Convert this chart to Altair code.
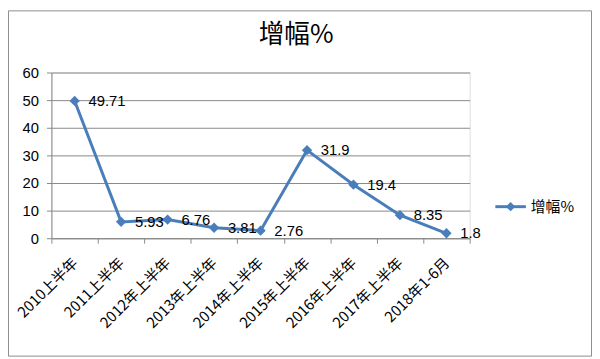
import altair as alt
import pandas as pd

categories = ["2010上半年", "2011上半年", "2012年上半年", "2013年上半年", "2014年上半年",
              "2015年上半年", "2016年上半年", "2017年上半年", "2018年1-6月"]
values = [49.71, 5.93, 6.76, 3.81, 2.76, 31.9, 19.4, 8.35, 1.8]
labels = ["49.71", "5.93", "6.76", "3.81", "2.76", "31.9", "19.4", "8.35", "1.8"]
series_name = "增幅%"
title_text = "增幅%"
y_ticks = [0, 10, 20, 30, 40, 50, 60]

df = pd.DataFrame({"cat": categories, "val": values, "lab": labels})

BLUE = "#4A7EBB"
GRAY = "#888888"
CJK = "Noto Sans CJK SC"
NUM = "Liberation Sans"

x_enc = alt.X("cat:N", sort=categories, bandPosition=0.5,
              scale=alt.Scale(type="band", paddingInner=0, paddingOuter=0),
              axis=alt.Axis(title=None, labelAngle=-45, labelAlign="right", labelBaseline="middle",
                            labelFont=CJK, labelFontSize=15, labelColor="black",
                            labelPadding=17, tickSize=5, tickBand="extent",
                            domainColor=GRAY, tickColor=GRAY, grid=False))
y_enc = alt.Y("val:Q", scale=alt.Scale(domain=[0, 60], nice=False),
              axis=alt.Axis(title=None, values=y_ticks, labelFont=NUM, labelFontSize=15,
                            labelColor="black", labelPadding=8, tickSize=5,
                            domainColor=GRAY, tickColor=GRAY, gridColor=GRAY, grid=True))

base = alt.Chart(df)
line = base.mark_line(color=BLUE, strokeWidth=3).encode(x=x_enc, y=y_enc)
pts = base.mark_point(shape="diamond", filled=True, color=BLUE, size=110, opacity=1).encode(x=x_enc, y=y_enc)
txt = base.mark_text(align="left", baseline="middle", dx=14, font=NUM, fontSize=15,
                     color="black").encode(x=x_enc, y=y_enc, text="lab:N")

leg_df = pd.DataFrame({"name": [series_name], "title": [title_text]})
leg_line = alt.Chart(leg_df).mark_rule(color=BLUE, strokeWidth=3).encode(
    x=alt.value(450), x2=alt.value(481), y=alt.value(136))
leg_pt = alt.Chart(leg_df).mark_point(shape="diamond", filled=True, color=BLUE, size=90, opacity=1).encode(
    x=alt.value(465.5), y=alt.value(136))
leg_txt = alt.Chart(leg_df).mark_text(align="left", baseline="middle", font=CJK, fontSize=15,
                                      color="black").encode(
    x=alt.value(486), y=alt.value(136), text="name:N")
title_mark = alt.Chart(leg_df).mark_text(align="center", baseline="middle", font=CJK, fontSize=26,
                                         color="black").encode(
    x=alt.value(248), y=alt.value(-38), text="title:N")

border = alt.Chart(leg_df).mark_rect(filled=False, stroke="#8c8c8c", strokeWidth=1).encode(
    x=alt.value(-43.5), x2=alt.value(547.5), y=alt.value(-62.5), y2=alt.value(287.5))

chart = alt.layer(border, line, pts, txt, leg_line, leg_pt, leg_txt, title_mark).properties(
    width=424, height=168,
    autosize=alt.AutoSizeParams(type="none"),
    padding={"left": 44, "top": 63, "right": 124, "bottom": 120},
).configure_view(stroke=None).configure(background="white")

chart.save("out.html", embed_options={"renderer": "svg", "actions": False})
